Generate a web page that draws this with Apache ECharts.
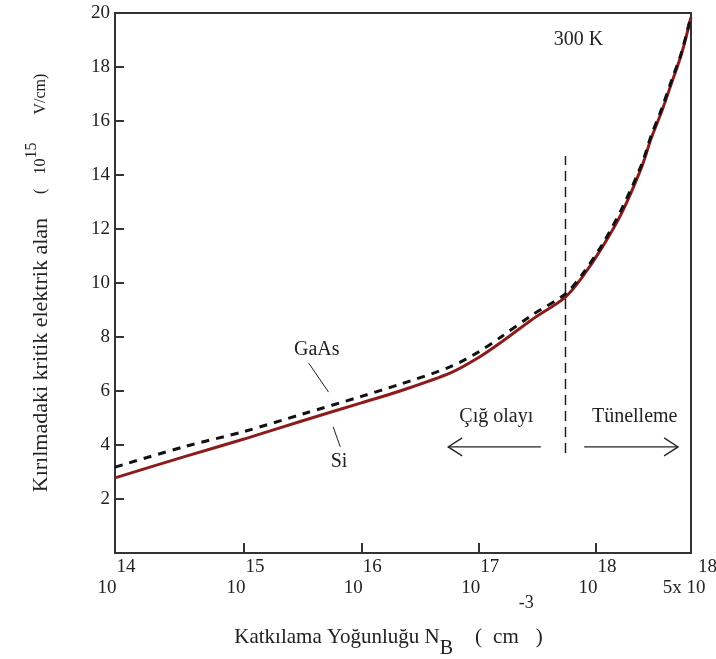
<!DOCTYPE html>
<html>
<head>
<meta charset="utf-8">
<script src="https://cdn.jsdelivr.net/npm/echarts@6/dist/echarts.min.js"></script>
<style>
html, body { margin: 0; background: #fff; }
#main { width: 716px; height: 659px; }
</style>
</head>
<body>
<div id="main"></div>
<script>
// x ekseni: log10(N_B), eksen 10^13.9 .. 10^18.81 arasi cizili
var xMin = 13.9;
var xMax = 18.81;
var xTickAt = [15, 16, 17, 18];
var xLabelAt = [13.9, 15, 16, 17, 18, 18.81];
var xLabelBase = ['10', '10', '10', '10', '10', '5x 10'];
var xLabelExp = ['14', '15', '16', '17', '18', '18'];

// egriler (okunan degerler)
var dopExp = [13.9, 14.5, 15.0, 15.5, 16.0, 16.33, 16.76, 17.0, 17.19, 17.45, 17.74, 17.88, 18.05, 18.22, 18.39, 18.47, 18.56, 18.64, 18.73, 18.81];
var siField = [2.78, 3.58, 4.22, 4.9, 5.56, 6.0, 6.67, 7.24, 7.8, 8.63, 9.48, 10.2, 11.3, 12.6, 14.3, 15.35, 16.35, 17.35, 18.5, 19.85];
var gaasField = [3.18, 3.95, 4.5, 5.15, 5.8, 6.25, 6.9, 7.45, 8.0, 8.8, 9.6, 10.3, 11.4, 12.75, 14.4, 15.45, 16.45, 17.45, 18.55, 19.9];

// cig / tunelleme siniri
var boundaryExp = 17.74;
var boundaryField = [3.7, 14.7];

// yazilar
var annoText = ['300 K', 'GaAs', 'Si', 'Çığ olayı', 'Tünelleme'];
var annoExp = [17.85, 15.62, 15.81, 17.15, 18.33];
var annoField = [19.0, 7.52, 3.37, 5.04, 5.04];

// isaret cizgileri (GaAs, Si)
var leaderExp = [[15.55, 15.72], [15.76, 15.82]];
var leaderField = [[7.04, 5.96], [4.67, 3.93]];

// oklar
var arrowFromExp = [17.53, 17.90];
var arrowToExp = [16.74, 18.70];
var arrowField = 3.93;

var FONT = 'Liberation Serif';
var INK = '#222';

function pairs(xs, ys) {
    var out = [];
    for (var i = 0; i < xs.length; i++) {
        out.push([xs[i], ys[i]]);
    }
    return out;
}

var chart = echarts.init(document.getElementById('main'));

var option = {
    animation: false,
    backgroundColor: '#fff',
    textStyle: {fontFamily: FONT},
    grid: {
        left: 115, right: 25, top: 13, bottom: 106,
        containLabel: false,
        outerBoundsMode: 'none',
        show: true, borderColor: '#333', borderWidth: 2
    },
    xAxis: {
        type: 'value',
        min: xMin,
        max: xMax,
        axisLine: {show: true, onZero: false, lineStyle: {color: '#333', width: 2}},
        axisTick: {show: true, inside: true, length: 10, customValues: xTickAt, lineStyle: {color: '#333', width: 2}},
        splitLine: {show: false},
        axisLabel: {
            customValues: xLabelAt,
            margin: 4,
            formatter: function (v) {
                for (var i = 0; i < xLabelAt.length; i++) {
                    if (Math.abs(xLabelAt[i] - v) < 1e-6) {
                        if (i === xLabelAt.length - 1) {
                            return '{e2|' + xLabelExp[i] + '}\n{b2|' + xLabelBase[i] + '}';
                        }
                        return '{e|' + xLabelExp[i] + '}\n{b|' + xLabelBase[i] + '}';
                    }
                }
                return '';
            },
            rich: {
                e: {fontSize: 19, fontFamily: FONT, color: INK, lineHeight: 21, padding: [0, 0, 0, 22]},
                b: {fontSize: 19, fontFamily: FONT, color: INK, lineHeight: 21, padding: [0, 16, 0, 0]},
                e2: {fontSize: 19, fontFamily: FONT, color: INK, lineHeight: 21, padding: [0, 0, 0, 33]},
                b2: {fontSize: 19, fontFamily: FONT, color: INK, lineHeight: 21, padding: [0, 14, 0, 0]}
            }
        },
        name: '{t|Katkılama Yoğunluğu N}{sub|B}{p|(}{c|cm}{sup|-3}{q|)}',
        nameLocation: 'middle',
        nameGap: 41,
        nameMoveOverlap: false,
        nameTextStyle: {
            padding: [0, 29, 0, 0],
            rich: {
                t: {fontSize: 21, fontFamily: FONT, color: INK},
                sub: {fontSize: 20, fontFamily: FONT, color: INK, padding: [24, 0, 0, 0]},
                p: {fontSize: 21, fontFamily: FONT, color: INK, padding: [0, 0, 0, 22]},
                c: {fontSize: 21, fontFamily: FONT, color: INK, padding: [0, 0, 0, 11]},
                sup: {fontSize: 18, fontFamily: FONT, color: INK, padding: [0, 0, 68, 0]},
                q: {fontSize: 21, fontFamily: FONT, color: INK, padding: [0, 0, 0, 2]}
            }
        }
    },
    yAxis: {
        type: 'value',
        min: 0,
        max: 20,
        interval: 2,
        axisLine: {show: true, lineStyle: {color: '#333', width: 2}},
        axisTick: {show: true, inside: true, length: 9, lineStyle: {color: '#333', width: 2}},
        splitLine: {show: false},
        axisLabel: {showMinLabel: false, fontSize: 19, fontFamily: FONT, color: INK, margin: 5},
        name: '{t|Kırılmadaki kritik elektrik alan}{p|(}{n|10}{sup|15}{u|V/cm)}',
        nameLocation: 'middle',
        nameRotate: 90,
        nameGap: 57,
        nameTextStyle: {
            rich: {
                t: {fontSize: 22, fontFamily: FONT, color: INK},
                p: {fontSize: 16, fontFamily: FONT, color: INK, padding: [0, 0, 0, 24]},
                n: {fontSize: 16, fontFamily: FONT, color: INK, padding: [0, 0, 0, 14]},
                sup: {fontSize: 16, fontFamily: FONT, color: INK, padding: [0, 0, 18, 0]},
                u: {fontSize: 16, fontFamily: FONT, color: INK, padding: [0, 0, 0, 28]}
            }
        }
    },
    series: [
        {
            name: 'Si',
            type: 'line',
            data: pairs(dopExp, siField),
            showSymbol: false,
            smooth: 0.3,
            lineStyle: {color: '#8c1c1c', width: 3},
            z: 3
        },
        {
            name: 'GaAs',
            type: 'line',
            data: pairs(dopExp, gaasField),
            showSymbol: false,
            smooth: 0.3,
            lineStyle: {color: '#111', width: 3, type: [8, 7]},
            z: 4
        },
        {
            name: 'sinir',
            type: 'line',
            data: [[boundaryExp, boundaryField[0]], [boundaryExp, boundaryField[1]]],
            showSymbol: false,
            lineStyle: {color: INK, width: 1.5, type: [10, 6]},
            z: 2
        }
    ]
};

chart.setOption(option);

// yazilar ve oklar veri koordinatlarindan piksele
function px(x, y) {
    return chart.convertToPixel({seriesIndex: 0}, [x, y]);
}

var graphics = [];
for (var i = 0; i < annoText.length; i++) {
    var p = px(annoExp[i], annoField[i]);
    graphics.push({
        type: 'text', x: p[0], y: p[1], z: 10,
        style: {text: annoText[i], fontFamily: FONT, fontSize: 20, fill: INK, align: 'center', verticalAlign: 'middle'}
    });
}
for (var j = 0; j < leaderExp.length; j++) {
    var a = px(leaderExp[j][0], leaderField[j][0]);
    var b = px(leaderExp[j][1], leaderField[j][1]);
    graphics.push({
        type: 'line', z: 10,
        shape: {x1: a[0], y1: a[1], x2: b[0], y2: b[1]},
        style: {stroke: INK, lineWidth: 1}
    });
}
for (var k = 0; k < arrowFromExp.length; k++) {
    var s = px(arrowFromExp[k], arrowField);
    var t = px(arrowToExp[k], arrowField);
    var dir = t[0] > s[0] ? 1 : -1;
    graphics.push({
        type: 'line', z: 10,
        shape: {x1: s[0], y1: s[1], x2: t[0], y2: t[1]},
        style: {stroke: INK, lineWidth: 1.3}
    });
    graphics.push({
        type: 'polyline', z: 10,
        shape: {points: [[t[0] - dir * 14, t[1] - 9], [t[0], t[1]], [t[0] - dir * 14, t[1] + 9]]},
        style: {stroke: INK, lineWidth: 1.3, fill: null}
    });
}
chart.setOption({graphic: graphics});
</script>
</body>
</html>
